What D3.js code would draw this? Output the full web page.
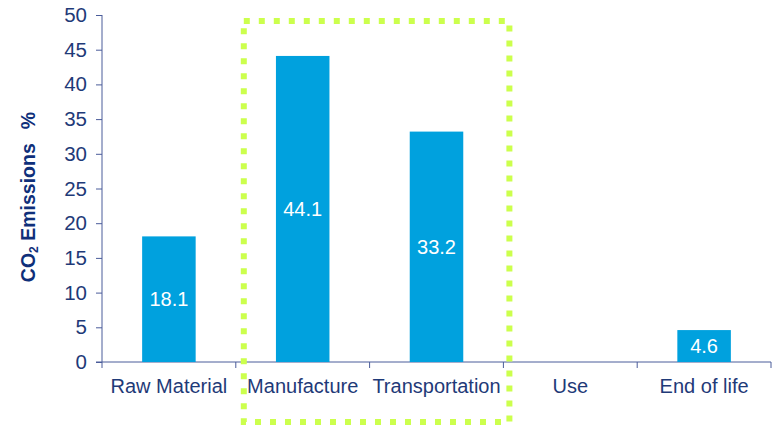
<!DOCTYPE html>
<html><head><meta charset="utf-8">
<script src="https://cdn.jsdelivr.net/npm/d3@7"></script>
<style>body{margin:0;background:#fff}svg{display:block}</style>
</head><body>
<svg id="chart" width="776" height="427"></svg>
<script>
const categories = ["Raw Material", "Manufacture", "Transportation", "Use", "End of life"];
const values = [18.1, 44.1, 33.2, null, 4.6];
const yTicks = [0, 5, 10, 15, 20, 25, 30, 35, 40, 45, 50];
const highlighted = ["Manufacture", "Transportation"];

const svg = d3.select("#chart");
const m = {left: 102, right: 5, top: 15, bottom: 65};
const W = 776, H = 427;
const x = d3.scaleBand().domain(categories).range([m.left, W - m.right]).paddingInner(0).paddingOuter(0);
const y = d3.scaleLinear().domain([0, 50]).range([H - m.bottom, m.top]);
const axisColor = "#4a5c9a", textColor = "#1f3a78";
const font = "Liberation Sans, Arial, sans-serif";

// y axis
const ya = svg.append("g").attr("transform", `translate(${m.left},0)`)
  .call(d3.axisLeft(y).tickValues(yTicks).tickSize(6).tickPadding(9));
ya.select(".domain").attr("stroke", axisColor).attr("d", `M0,${y(50)}V${y(0)}`);
ya.selectAll(".tick line").attr("stroke", axisColor);
ya.selectAll("text").attr("fill", textColor).style("font-family", font).style("font-size", "20.5px");

// x axis
const xa = svg.append("g").attr("transform", `translate(0,${y(0)})`);
xa.append("line").attr("x1", m.left - 6).attr("x2", W - m.right).attr("stroke", axisColor);
const bounds = categories.map(c => x(c)).concat([x.range()[1]]);
xa.selectAll(".bt").data(bounds).join("line")
  .attr("x1", d => d).attr("x2", d => d).attr("y1", 0).attr("y2", 6).attr("stroke", axisColor);
xa.selectAll(".cl").data(categories).join("text")
  .attr("x", d => x(d) + x.bandwidth() / 2).attr("y", 31)
  .attr("text-anchor", "middle").attr("fill", textColor)
  .style("font-family", font).style("font-size", "20px").text(d => d);

// bars
const bw = x.bandwidth() * 0.4;
const data = categories.map((c, i) => ({c, v: values[i]})).filter(d => d.v != null);
svg.selectAll(".bar").data(data).join("rect")
  .attr("x", d => x(d.c) + (x.bandwidth() - bw) / 2)
  .attr("width", bw)
  .attr("y", d => y(d.v))
  .attr("height", d => y(0) - y(d.v))
  .attr("fill", "#00a1de");
svg.selectAll(".lbl").data(data).join("text")
  .attr("x", d => x(d.c) + x.bandwidth() / 2)
  .attr("y", d => (y(d.v) + y(0)) / 2)
  .attr("dy", "0.35em").attr("text-anchor", "middle").attr("fill", "#fff")
  .style("font-family", font).style("font-size", "20px").text(d => d.v.toFixed(1));

// highlight box
const hx0 = x(highlighted[0]) + 8, hx1 = x(highlighted[1]) + x.bandwidth() + 6;
svg.append("rect").attr("x", hx0).attr("y", 21).attr("width", hx1 - hx0).attr("height", 401)
  .attr("fill", "none").attr("stroke", "#ccff4d").attr("stroke-width", 6)
  .attr("stroke-dasharray", "6 9");

// y title
const t = svg.append("text").attr("transform", `translate(35,197) rotate(-90)`)
  .attr("text-anchor", "middle").attr("fill", "#0f2f7a")
  .style("font-family", font).style("font-size", "19.5px").style("font-weight", "bold");
t.append("tspan").text("CO");
t.append("tspan").attr("font-size", "12px").attr("dy", "3").text("2");
t.append("tspan").attr("dy", "-3").text(" Emissions");
t.append("tspan").attr("dx", "14").text("%");
</script>
</body></html>
